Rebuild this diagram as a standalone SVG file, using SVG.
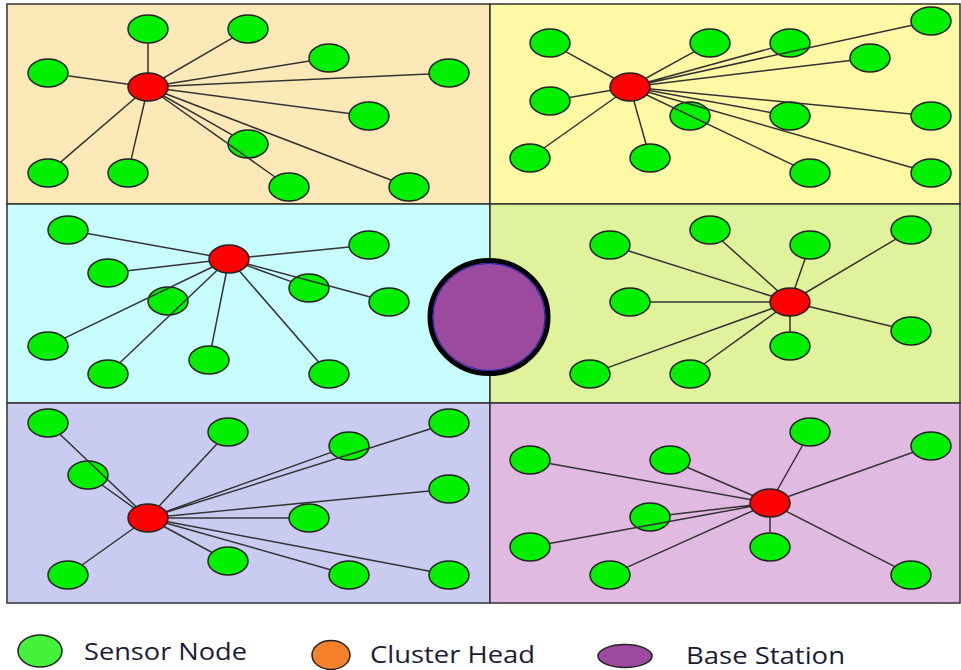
<svg xmlns="http://www.w3.org/2000/svg" width="961" height="670" viewBox="0 0 961 670">
  <style>
    .cell { stroke: #333; stroke-width: 1.5; }
    .sn { fill: #00F000; stroke: #222; stroke-width: 1.5; }
    .ch { fill: #FF0000; stroke: #222; stroke-width: 1.5; }
    .link { stroke: #333; stroke-width: 1.5; fill: none; }
    .lg { font-family: "Open Sans", "Liberation Sans", sans-serif; font-size: 23px; fill: #1c1c34; }
  </style>

  <!-- cluster regions -->
  <g id="regions">
    <rect class="cell" x="7" y="4" width="483" height="200" fill="#FDE9B7"/>
    <rect class="cell" x="490" y="4" width="470" height="200" fill="#FFF8A4"/>
    <rect class="cell" x="7" y="204" width="483" height="199" fill="#C7FDFE"/>
    <rect class="cell" x="490" y="204" width="470" height="199" fill="#E0F29B"/>
    <rect class="cell" x="7" y="403" width="483" height="200" fill="#C9CCF0"/>
    <rect class="cell" x="490" y="403" width="470" height="200" fill="#E0BAE0"/>
  </g>

  <!-- sensor nodes -->
  <g id="sensors">
    <!-- cluster 1 -->
    <g id="s1-1"><ellipse class="sn" cx="48" cy="73" rx="20" ry="14"/></g>
    <g id="s1-2"><ellipse class="sn" cx="148" cy="29" rx="20" ry="14"/></g>
    <g id="s1-3"><ellipse class="sn" cx="248" cy="29" rx="20" ry="14"/></g>
    <g id="s1-4"><ellipse class="sn" cx="329" cy="58" rx="20" ry="14"/></g>
    <g id="s1-5"><ellipse class="sn" cx="449" cy="73" rx="20" ry="14"/></g>
    <g id="s1-6"><ellipse class="sn" cx="369" cy="116" rx="20" ry="14"/></g>
    <g id="s1-7"><ellipse class="sn" cx="248" cy="144" rx="20" ry="14"/></g>
    <g id="s1-8"><ellipse class="sn" cx="289" cy="187" rx="20" ry="14"/></g>
    <g id="s1-9"><ellipse class="sn" cx="409" cy="187" rx="20" ry="14"/></g>
    <g id="s1-10"><ellipse class="sn" cx="48" cy="173" rx="20" ry="14"/></g>
    <g id="s1-11"><ellipse class="sn" cx="128" cy="173" rx="20" ry="14"/></g>
    <!-- cluster 2 -->
    <g id="s2-1"><ellipse class="sn" cx="550" cy="43" rx="20" ry="14"/></g>
    <g id="s2-2"><ellipse class="sn" cx="550" cy="101" rx="20" ry="14"/></g>
    <g id="s2-3"><ellipse class="sn" cx="530" cy="158" rx="20" ry="14"/></g>
    <g id="s2-4"><ellipse class="sn" cx="650" cy="158" rx="20" ry="14"/></g>
    <g id="s2-5"><ellipse class="sn" cx="710" cy="43" rx="20" ry="14"/></g>
    <g id="s2-6"><ellipse class="sn" cx="790" cy="43" rx="20" ry="14"/></g>
    <g id="s2-7"><ellipse class="sn" cx="931" cy="21" rx="20" ry="14"/></g>
    <g id="s2-8"><ellipse class="sn" cx="870" cy="58" rx="20" ry="14"/></g>
    <g id="s2-9"><ellipse class="sn" cx="690" cy="116" rx="20" ry="14"/></g>
    <g id="s2-10"><ellipse class="sn" cx="790" cy="116" rx="20" ry="14"/></g>
    <g id="s2-11"><ellipse class="sn" cx="931" cy="116" rx="20" ry="14"/></g>
    <g id="s2-12"><ellipse class="sn" cx="810" cy="173" rx="20" ry="14"/></g>
    <g id="s2-13"><ellipse class="sn" cx="931" cy="173" rx="20" ry="14"/></g>
    <!-- cluster 3 -->
    <g id="s3-1"><ellipse class="sn" cx="68" cy="230" rx="20" ry="14"/></g>
    <g id="s3-2"><ellipse class="sn" cx="108" cy="273" rx="20" ry="14"/></g>
    <g id="s3-3"><ellipse class="sn" cx="168" cy="301" rx="20" ry="14"/></g>
    <g id="s3-4"><ellipse class="sn" cx="48" cy="346" rx="20" ry="14"/></g>
    <g id="s3-5"><ellipse class="sn" cx="108" cy="374" rx="20" ry="14"/></g>
    <g id="s3-6"><ellipse class="sn" cx="209" cy="360" rx="20" ry="14"/></g>
    <g id="s3-7"><ellipse class="sn" cx="329" cy="374" rx="20" ry="14"/></g>
    <g id="s3-8"><ellipse class="sn" cx="309" cy="288" rx="20" ry="14"/></g>
    <g id="s3-9"><ellipse class="sn" cx="389" cy="302" rx="20" ry="14"/></g>
    <g id="s3-10"><ellipse class="sn" cx="369" cy="245" rx="20" ry="14"/></g>
    <!-- cluster 4 -->
    <g id="s4-1"><ellipse class="sn" cx="610" cy="245" rx="20" ry="14"/></g>
    <g id="s4-2"><ellipse class="sn" cx="710" cy="230" rx="20" ry="14"/></g>
    <g id="s4-3"><ellipse class="sn" cx="810" cy="245" rx="20" ry="14"/></g>
    <g id="s4-4"><ellipse class="sn" cx="911" cy="230" rx="20" ry="14"/></g>
    <g id="s4-5"><ellipse class="sn" cx="630" cy="302" rx="20" ry="14"/></g>
    <g id="s4-6"><ellipse class="sn" cx="911" cy="331" rx="20" ry="14"/></g>
    <g id="s4-7"><ellipse class="sn" cx="790" cy="346" rx="20" ry="14"/></g>
    <g id="s4-8"><ellipse class="sn" cx="590" cy="374" rx="20" ry="14"/></g>
    <g id="s4-9"><ellipse class="sn" cx="690" cy="374" rx="20" ry="14"/></g>
    <!-- cluster 5 -->
    <g id="s5-1"><ellipse class="sn" cx="48" cy="423" rx="20" ry="14"/></g>
    <g id="s5-2"><ellipse class="sn" cx="88" cy="475" rx="20" ry="14"/></g>
    <g id="s5-3"><ellipse class="sn" cx="228" cy="432" rx="20" ry="14"/></g>
    <g id="s5-4"><ellipse class="sn" cx="349" cy="446" rx="20" ry="14"/></g>
    <g id="s5-5"><ellipse class="sn" cx="449" cy="423" rx="20" ry="14"/></g>
    <g id="s5-6"><ellipse class="sn" cx="449" cy="489" rx="20" ry="14"/></g>
    <g id="s5-7"><ellipse class="sn" cx="309" cy="518" rx="20" ry="14"/></g>
    <g id="s5-8"><ellipse class="sn" cx="68" cy="575" rx="20" ry="14"/></g>
    <g id="s5-9"><ellipse class="sn" cx="228" cy="561" rx="20" ry="14"/></g>
    <g id="s5-10"><ellipse class="sn" cx="349" cy="575" rx="20" ry="14"/></g>
    <g id="s5-11"><ellipse class="sn" cx="449" cy="575" rx="20" ry="14"/></g>
    <!-- cluster 6 -->
    <g id="s6-1"><ellipse class="sn" cx="530" cy="460" rx="20" ry="14"/></g>
    <g id="s6-2"><ellipse class="sn" cx="670" cy="460" rx="20" ry="14"/></g>
    <g id="s6-3"><ellipse class="sn" cx="810" cy="432" rx="20" ry="14"/></g>
    <g id="s6-4"><ellipse class="sn" cx="931" cy="446" rx="20" ry="14"/></g>
    <g id="s6-5"><ellipse class="sn" cx="650" cy="517" rx="20" ry="14"/></g>
    <g id="s6-6"><ellipse class="sn" cx="530" cy="547" rx="20" ry="14"/></g>
    <g id="s6-7"><ellipse class="sn" cx="610" cy="575" rx="20" ry="14"/></g>
    <g id="s6-8"><ellipse class="sn" cx="770" cy="547" rx="20" ry="14"/></g>
    <g id="s6-9"><ellipse class="sn" cx="911" cy="575" rx="20" ry="14"/></g>
  </g>

  <!-- links from each cluster head to its members (ending on the member's rim) -->
  <g id="connectors" class="link">
    <path d="M148 87L67.6 75.7M148 87L148 43M148 87L232.6 37.9M148 87L309.5 61.1M148 87L429 73.9M148 87L349.3 113.4M148 87L232.5 135.2M148 87L275 177M148 87L391.5 180.3M148 87L60.6 162.1M148 87L131.2 159.2"/>
    <path d="M630 87L565.7 51.6M630 87L569.4 97.6M630 87L544 148M630 87L646.1 144.3M630 87L694.3 51.6M630 87L771.4 48.1M630 87L911.9 25.2M630 87L850.3 60.4M630 87L911.2 114.1M630 87L770.6 112.5M630 87L793.5 165.1M630 87L912.5 167.7"/>
    <path d="M229 259L87.4 233.5M229 259L127.7 270.7M229 259L349.2 247M229 259L64.5 338.1M229 259L119.9 362.7M229 259L211.7 346.1M229 259L318.6 362M229 259L291.2 281.6M229 259L370.3 297"/>
    <path d="M790 302L628.2 250.8M790 302L722.3 241M790 302L805.2 258.6M790 302L895.8 239.1M790 302L650 302M790 302L892.1 326.5M790 302L790 332M790 302L607.8 367.6M790 302L704 364"/>
    <path d="M148 518L59.9 434.3M148 518L102 485M148 518L217.1 443.7M148 518L331.2 452.4M148 518L430.8 428.8M148 518L429.2 490.9M148 518L289 518M148 518L82 565M148 518L212.1 552.5M148 518L330.5 569.7M148 518L429.7 571.3"/>
    <path d="M770 503L549.4 463.5M770 503L687 467.3M770 503L802.7 445M770 503L913.2 452.3M770 503L669.7 514.7M770 503L549.4 543.5M770 503L626.8 567.4M770 503L770 533M770 503L894.8 566.7"/>
  </g>

  <!-- cluster heads -->
  <g id="ch1"><ellipse class="ch" cx="148" cy="87" rx="20" ry="14"/></g>
  <g id="ch2"><ellipse class="ch" cx="630" cy="87" rx="20" ry="14"/></g>
  <g id="ch3"><ellipse class="ch" cx="229" cy="259" rx="20" ry="14"/></g>
  <g id="ch4"><ellipse class="ch" cx="790" cy="302" rx="20" ry="14"/></g>
  <g id="ch5"><ellipse class="ch" cx="148" cy="518" rx="20" ry="14"/></g>
  <g id="ch6"><ellipse class="ch" cx="770" cy="503" rx="20" ry="14"/></g>

  <!-- base station in the middle -->
  <g id="base-station">
    <ellipse cx="489" cy="317" rx="59" ry="56.5" fill="#9C4A9E" stroke="#000" stroke-width="5"/>
    <ellipse cx="489" cy="317" rx="56" ry="53.5" fill="none" stroke="#2020C0" stroke-width="1"/>
  </g>

  <!-- legend -->
  <g id="legend">
    <g id="legend-sensor">
      <ellipse cx="40" cy="651" rx="22" ry="16" fill="#44F23C" stroke="#222" stroke-width="1.5"/>
      <text class="lg" x="84" y="660" textLength="163" lengthAdjust="spacingAndGlyphs">Sensor Node</text>
    </g>
    <g id="legend-head">
      <ellipse cx="331" cy="655" rx="19" ry="14.5" fill="#F5822A" stroke="#222" stroke-width="1.5"/>
      <text class="lg" x="370" y="663" textLength="165" lengthAdjust="spacingAndGlyphs">Cluster Head</text>
    </g>
    <g id="legend-base">
      <ellipse cx="625" cy="656" rx="27" ry="11.5" fill="#9C4AA0" stroke="#222" stroke-width="1.5"/>
      <text class="lg" x="686" y="664" textLength="159" lengthAdjust="spacingAndGlyphs">Base Station</text>
    </g>
  </g>
</svg>
